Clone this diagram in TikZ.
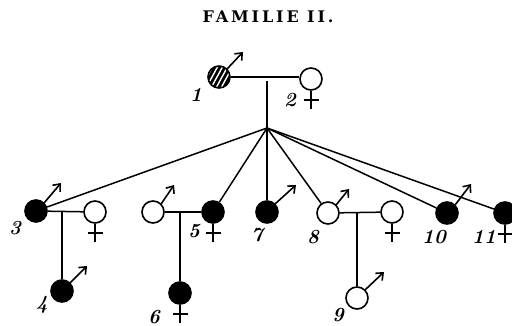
\documentclass[tikz,border=0pt]{standalone}
\usepackage{fontspec}
\usetikzlibrary{arrows.meta,calc}
\newfontfamily\headingfont[LetterSpace=18]{DejaVu Serif}
\begin{document}
\begin{tikzpicture}[x=1pt,y=-1pt,
  person/.style={circle,draw,line width=1.6pt,minimum size=22pt,inner sep=0pt},
  affected/.style={person,fill=black},
  healthy/.style={person,fill=white},
  hatched/.style={person,fill=black,path picture={
      \foreach \i in {-12,-7,...,12}
        \draw[white,line width=1.4pt]
          ($(path picture bounding box.center)+(\i-6,11)$) -- ++(12,-22);}},
  link/.style={line width=1.5pt},
  mars/.style={line width=1.6pt,-{Straight Barb[length=6pt,width=10pt,line width=1.6pt]}},
  num/.style={font=\bfseries\itshape\fontsize{20}{20}\selectfont,inner sep=0pt},
  heading/.style={font=\headingfont\bfseries\fontsize{16}{16}\selectfont,inner sep=0pt},
  venus/.pic={\draw[line width=1.6pt] (0,0) -- (0,18); \draw[line width=1.6pt] (-7.5,9) -- (7.5,9);}]
\useasboundingbox (0,0) rectangle (512,326);

\node[heading] (title) at (268,17) {FAMILIE II.};

% parents
\node[hatched] (n1) at (219,77) {};
\node[healthy] (n2) at (311,79) {};
% children
\node[affected] (n3) at (36,211) {};
\node[healthy] (n3w) at (95,212) {};
\node[healthy] (n5h) at (153,212) {};
\node[affected] (n5) at (213,212) {};
\node[affected] (n7) at (267,212) {};
\node[healthy] (n8) at (328,213) {};
\node[healthy] (n8w) at (392,212) {};
\node[affected] (n10) at (447,213) {};
\node[affected] (n11) at (505,213) {};
% grandchildren
\node[affected] (n4) at (62,291) {};
\node[affected] (n6) at (180,293) {};
\node[healthy] (n9) at (357,298) {};

% numbers
\node[num] (l1) at (196,95) {1};
\node[num] (l2) at (290,100) {2};
\node[num] (l3) at (15,228) {3};
\node[num] (l4) at (42,305) {4};
\node[num] (l5) at (194,231) {5};
\node[num] (l6) at (154,317) {6};
\node[num] (l7) at (257,235) {7};
\node[num] (l8) at (313,237) {8};
\node[num] (l9) at (338,315) {9};
\node[num] (l10) at (434,237) {10};
\node[num] (l11) at (484,237) {11};

% marriage of the parents and descent line
\coordinate (hub) at (267,128);
\draw[link] (n1.east) -- (n2.west |- n1.east);
\draw[link] (hub |- n1.east) ++(0,4) -- (hub);
% sibship
\foreach \c in {n3,n5,n7,n8,n10,n11}
  \draw[link] (hub) -- (\c);
% marriages of the children and their offspring
\draw[link] (n3) -- (n3w);
\draw[link] (n4.north |- n3) -- (n4.north);
\draw[link] (n5h) -- (n5);
\draw[link] (n6.north |- n5) -- (n6.north);
\draw[link] (n8) -- (n8w);
\draw[link] (n9.north |- n8w) -- (n9.north);

% sex symbols
\coordinate (m1) at (243,52);
\coordinate (m3) at (61,183);
\coordinate (m4) at (87,266);
\coordinate (m5h) at (174,185);
\coordinate (m7) at (296,185);
\coordinate (m8) at (349,189);
\coordinate (m9) at (384,272);
\coordinate (m10) at (471,184);
\foreach \c in {1,3,4,5h,7,8,9,10}
  \draw[mars] (n\c.45) -- (m\c);
\foreach \c in {2,3w,5,6,8w,11}
  \pic at (n\c.south) {venus};
\end{tikzpicture}
\end{document}
